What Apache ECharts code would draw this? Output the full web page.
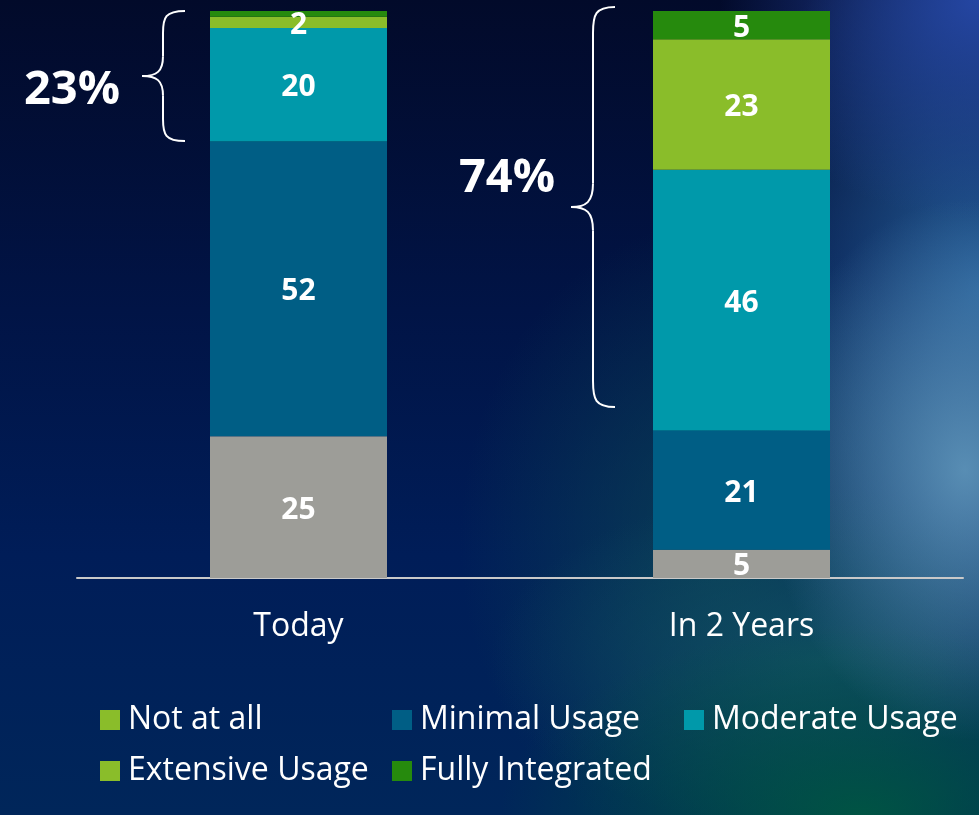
<!DOCTYPE html>
<html>
<head>
<meta charset="utf-8">
<script src="https://cdn.jsdelivr.net/npm/echarts@6/dist/echarts.min.js"></script>
<style>
html,body{margin:0;padding:0;width:979px;height:815px;overflow:hidden;}
body{
  background:
    radial-gradient(ellipse 200px 270px at 965px 470px, rgba(100,155,190,0.85), rgba(100,155,190,0) 100%),
    radial-gradient(ellipse 260px 220px at 979px 0px, rgba(38,72,168,0.95), rgba(38,72,168,0) 100%),
    radial-gradient(ellipse 360px 190px at 860px 815px, rgba(0,86,66,0.95), rgba(0,86,66,0) 100%),
    radial-gradient(ellipse 330px 170px at 820px 660px, rgba(18,85,100,0.8), rgba(18,85,100,0) 100%),
    radial-gradient(ellipse 250px 400px at 979px 290px, rgba(40,100,160,0.9), rgba(40,100,160,0) 100%),
    radial-gradient(ellipse 260px 320px at 720px 540px, rgba(12,72,85,0.75), rgba(12,72,85,0) 100%),
    linear-gradient(180deg, #020a2a 0%, #011446 38%, #001d58 68%, #00265a 100%);
}
#main{width:979px;height:815px;}
</style>
</head>
<body>
<div id="main"></div>
<script>
const categories = ['Today', 'In 2 Years'];
const seriesNames = ['Not at all', 'Minimal Usage', 'Moderate Usage', 'Extensive Usage', 'Fully Integrated'];
const notAtAll = [25, 5];
const minimalUsage = [52, 21];
const moderateUsage = [20, 46];
const extensiveUsage = [2, 23];
const fullyIntegrated = [1, 5];
const barColors = ['#9d9d98', '#005e85', '#0099aa', '#8abd2a', '#268a0d'];
const legendColors = ['#8abd2a', '#005e85', '#0099aa', '#8abd2a', '#268a0d'];
const bracketLabels = ['23%', '74%'];

const values = [notAtAll, minimalUsage, moderateUsage, extensiveUsage, fullyIntegrated];
const font = "'Open Sans', 'Noto Sans', sans-serif";

const chart = echarts.init(document.getElementById('main'), null, {renderer: 'canvas'});

const legendPos = [
  {left: 100, top: 704},
  {left: 392, top: 704},
  {left: 684, top: 704},
  {left: 100, top: 755},
  {left: 392, top: 755}
];

function brace(xEnd, xMid, xTip, yTop, yBot, yTip, r) {
  const st = {stroke: '#ffffff', lineWidth: 2, fill: 'none'};
  const d = xEnd - xMid;
  const t = xMid - xTip;
  return [
    {type: 'bezierCurve', shape: {x1: xEnd, y1: yTop, x2: xMid, y2: yTop + r, cpx1: xEnd - d * 0.9, cpy1: yTop, cpx2: xMid, cpy2: yTop + r * 0.3}, style: st},
    {type: 'line', shape: {x1: xMid, y1: yTop + r, x2: xMid, y2: yTip - r * 0.9}, style: st},
    {type: 'bezierCurve', shape: {x1: xMid, y1: yTip - r * 0.9, x2: xTip, y2: yTip, cpx1: xMid, cpy1: yTip - r * 0.2, cpx2: xMid - t * 0.3, cpy2: yTip}, style: st},
    {type: 'bezierCurve', shape: {x1: xTip, y1: yTip, x2: xMid, y2: yTip + r * 0.9, cpx1: xMid - t * 0.3, cpy1: yTip, cpx2: xMid, cpy2: yTip + r * 0.2}, style: st},
    {type: 'line', shape: {x1: xMid, y1: yTip + r * 0.9, x2: xMid, y2: yBot - r}, style: st},
    {type: 'bezierCurve', shape: {x1: xMid, y1: yBot - r, x2: xEnd, y2: yBot, cpx1: xMid, cpy1: yBot - r * 0.3, cpx2: xEnd - d * 0.9, cpy2: yBot}, style: st}
  ];
}

const option = {
  backgroundColor: 'transparent',
  animation: false,
  grid: {left: 77, right: 16, top: 11, bottom: 237, containLabel: false},
  xAxis: {
    type: 'category',
    data: categories,
    axisLine: {show: true, lineStyle: {color: '#c9c9c9', width: 2}},
    axisTick: {show: false},
    axisLabel: {color: '#ffffff', fontSize: 32, fontFamily: font, margin: 33}
  },
  yAxis: {
    type: 'value', min: 0, max: 100,
    show: false,
    splitLine: {show: false}
  },
  legend: legendPos.map((p, i) => ({
    left: p.left, top: p.top, padding: 0,
    itemWidth: 20, itemHeight: 20,
    icon: 'rect',
    selectedMode: false,
    data: [{name: seriesNames[i], itemStyle: {color: legendColors[i]}}],
    textStyle: {color: '#ffffff', fontSize: 32, fontFamily: font, padding: [0, 0, 0, 3], lineHeight: 32}
  })),
  series: seriesNames.map((name, i) => ({
    name: name,
    type: 'bar',
    stack: 'total',
    barWidth: 177,
    data: values[i],
    itemStyle: {color: barColors[i]},
    label: {
      show: true,
      position: 'inside',
      offset: [0, 3],
      color: '#ffffff',
      fontSize: 30,
      fontWeight: 'bold',
      fontFamily: font,
      formatter: p => (p.value >= 2 ? String(p.value) : '')
    }
  })),
  graphic: [].concat(
    brace(185, 163, 142, 11, 141, 76, 22),
    brace(615, 593, 571, 7, 407, 207, 26),
    [
      {
        type: 'text', x: 72, y: 91,
        style: {text: bracketLabels[0], fill: '#ffffff', font: "bold 47px " + font, textAlign: 'center', textVerticalAlign: 'middle'}
      },
      {
        type: 'text', x: 507, y: 179,
        style: {text: bracketLabels[1], fill: '#ffffff', font: "bold 47px " + font, textAlign: 'center', textVerticalAlign: 'middle'}
      }
    ]
  )
};
chart.setOption(option);
</script>
</body>
</html>
